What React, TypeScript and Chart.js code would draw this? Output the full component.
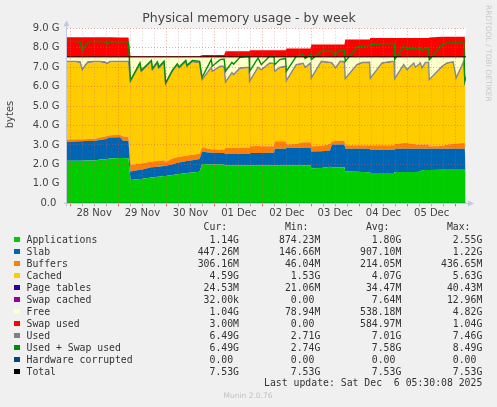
import React, { useEffect, useRef } from 'react';
import { Chart, registerables } from 'chart.js';

Chart.register(...registerables);

// hours since 28 Nov 00:00
const times = [
  -1.5, 2.5, 5.0, 6.1, 7.5, 9.0, 12.4, 14.9, 17.4, 18.4, 19.9, 24.9, 26.4, 29.1,
  30.1, 34.8, 35.5, 40.5, 41.0, 43.5, 44.2, 46.8, 47.6, 50.9, 53.4, 54.3, 57.6, 58.2, 60.9, 64.5,
  65.7, 70.3, 70.8, 74.7, 76.7, 77.4, 80.6, 81.4, 84.6, 89.1, 89.4, 93.6, 95.2, 99.4, 101.5,
  101.9, 104.4, 107.3, 107.7, 112.6, 116.0, 117.0, 119.8, 120.1, 125.1, 129.4, 130.4, 132.1,
  134.5, 136.6, 137.0, 142.8, 145.3, 149.1, 149.5, 155.3, 160.3, 161.3, 161.6, 166.1, 167.7,
  171.1, 171.9, 174.4, 175.2, 176.9, 178.5, 178.8, 185.2, 187.7, 190.7, 192.2, 196.0, 196.5, 196.9,
];

const applications = [
  2.19, 2.19, 2.19, 2.19, 2.20, 2.20, 2.20, 2.25, 2.27, 2.28, 2.30, 2.33, 2.33, 2.32,
  1.20, 1.25, 1.25, 1.33, 1.33, 1.36, 1.36, 1.40, 1.41, 1.46, 1.50, 1.51, 1.55, 1.56, 1.58, 1.62,
  2.02, 2.00, 2.00, 1.99, 1.99, 1.94, 1.94, 1.94, 1.94, 1.94, 1.95, 1.95, 1.95, 1.95, 1.95,
  1.95, 1.95, 1.95, 1.95, 1.95, 1.95, 1.95, 1.95, 1.80, 1.82, 1.88, 1.85, 1.85,
  1.85, 1.85, 1.63, 1.62, 1.61, 1.60, 1.56, 1.56, 1.56, 1.56, 1.61, 1.61, 1.61,
  1.61, 1.61, 1.62, 1.70, 1.71, 1.71, 1.71, 1.72, 1.73, 1.73, 1.73, 1.73, 1.73, 1.14,
];

const slab = [
  0.98, 0.99, 1.00, 1.00, 1.00, 1.00, 1.02, 1.00, 1.03, 1.05, 1.08, 1.07, 0.89, 0.90,
  0.43, 0.47, 0.47, 0.52, 0.52, 0.52, 0.52, 0.52, 0.52, 0.54, 0.58, 0.59, 0.61, 0.61, 0.64, 0.66,
  0.63, 0.60, 0.60, 0.60, 0.60, 0.60, 0.60, 0.60, 0.60, 0.60, 0.64, 0.64, 0.64, 0.65, 0.65,
  0.86, 0.86, 0.86, 0.90, 0.90, 0.90, 0.90, 0.90, 0.87, 0.86, 0.84, 1.17, 1.17,
  1.17, 1.17, 1.18, 1.19, 1.20, 1.20, 1.20, 1.20, 1.20, 1.20, 1.20, 1.20, 1.20,
  1.20, 1.20, 1.19, 1.11, 1.10, 1.10, 1.10, 1.09, 1.08, 1.08, 1.08, 1.08, 1.08, 0.45,
];

const buffers = [
  0.11, 0.11, 0.11, 0.11, 0.10, 0.11, 0.10, 0.13, 0.14, 0.13, 0.12, 0.12, 0.22, 0.20,
  0.34, 0.33, 0.33, 0.30, 0.30, 0.30, 0.30, 0.30, 0.19, 0.30, 0.29, 0.29, 0.29, 0.29, 0.28, 0.27,
  0.23, 0.18, 0.18, 0.18, 0.18, 0.30, 0.30, 0.30, 0.31, 0.32, 0.34, 0.36, 0.34, 0.33, 0.33,
  0.38, 0.38, 0.38, 0.17, 0.20, 0.29, 0.29, 0.29, 0.26, 0.27, 0.33, 0.17, 0.18,
  0.20, 0.20, 0.17, 0.17, 0.17, 0.18, 0.22, 0.22, 0.22, 0.22, 0.24, 0.29, 0.29,
  0.24, 0.21, 0.21, 0.21, 0.21, 0.21, 0.12, 0.14, 0.21, 0.24, 0.27, 0.29, 0.29, 0.30,
];

const cached = [
  3.97, 3.96, 3.93, 3.52, 3.75, 3.92, 3.93, 3.87, 3.78, 3.69, 3.75, 3.73, 3.81, 3.83,
  4.27, 5.08, 4.70, 5.11, 4.68, 5.00, 4.74, 5.00, 3.98, 4.45, 4.72, 4.53, 4.81, 4.55, 4.76, 4.65,
  3.44, 4.17, 3.97, 4.24, 4.24, 3.36, 3.84, 3.74, 4.07, 4.10, 3.31, 4.01, 3.90, 4.25, 4.23,
  3.56, 3.76, 3.82, 3.25, 4.04, 4.02, 3.82, 4.04, 3.48, 4.31, 4.16, 3.99, 3.72,
  4.04, 4.02, 3.39, 4.11, 4.22, 4.23, 3.41, 4.20, 4.28, 4.28, 3.32, 3.99, 3.73,
  4.13, 3.94, 4.16, 3.90, 4.19, 4.19, 3.39, 4.06, 4.16, 4.19, 3.33, 4.16, 3.16, 4.58,
];

const pageTables = [
  0.038, 0.038, 0.038, 0.038, 0.038, 0.038, 0.038, 0.038, 0.038, 0.038, 0.038, 0.038, 0.038, 0.038,
  0.033, 0.033, 0.033, 0.033, 0.033, 0.033, 0.033, 0.033, 0.033, 0.033, 0.033, 0.033, 0.033, 0.033, 0.033, 0.033,
  0.032, 0.032, 0.032, 0.032, 0.032, 0.032, 0.032, 0.032, 0.032, 0.032, 0.032, 0.032, 0.032, 0.032, 0.032,
  0.032, 0.032, 0.032, 0.032, 0.032, 0.032, 0.032, 0.032, 0.032, 0.032, 0.032, 0.032, 0.032,
  0.032, 0.032, 0.032, 0.032, 0.032, 0.032, 0.032, 0.032, 0.032, 0.032, 0.032, 0.032, 0.032,
  0.032, 0.032, 0.032, 0.032, 0.032, 0.032, 0.032, 0.032, 0.032, 0.032, 0.032, 0.032, 0.032, 0.025,
];

const swapCached = [
  0.012, 0.012, 0.012, 0.012, 0.012, 0.012, 0.012, 0.012, 0.012, 0.012, 0.012, 0.012, 0.012, 0.012,
  0.005, 0.005, 0.005, 0.005, 0.005, 0.005, 0.005, 0.005, 0.005, 0.005, 0.005, 0.005, 0.005, 0.005, 0.005, 0.005,
  0.008, 0.008, 0.008, 0.008, 0.008, 0.008, 0.008, 0.008, 0.008, 0.008, 0.008, 0.008, 0.008, 0.008, 0.008,
  0.008, 0.008, 0.008, 0.008, 0.008, 0.008, 0.008, 0.008, 0.008, 0.008, 0.008, 0.008, 0.008,
  0.008, 0.008, 0.008, 0.008, 0.008, 0.008, 0.008, 0.008, 0.008, 0.008, 0.008, 0.008, 0.008,
  0.008, 0.008, 0.008, 0.008, 0.008, 0.008, 0.008, 0.008, 0.008, 0.008, 0.008, 0.008, 0.008, 0.00003,
];

const free = [
  0.23, 0.23, 0.25, 0.66, 0.43, 0.25, 0.23, 0.23, 0.26, 0.33, 0.23, 0.23, 0.23, 0.23,
  1.25, 0.36, 0.74, 0.23, 0.66, 0.31, 0.57, 0.27, 1.39, 0.74, 0.40, 0.57, 0.23, 0.48, 0.23, 0.29,
  1.17, 0.54, 0.74, 0.48, 0.48, 1.29, 0.81, 0.91, 0.57, 0.53, 1.25, 0.53, 0.66, 0.31, 0.33,
  0.74, 0.54, 0.48, 1.22, 0.40, 0.33, 0.53, 0.31, 1.08, 0.23, 0.28, 0.31, 0.57,
  0.23, 0.25, 1.12, 0.40, 0.29, 0.28, 1.10, 0.31, 0.23, 0.23, 1.12, 0.40, 0.66,
  0.31, 0.53, 0.31, 0.57, 0.28, 0.28, 1.17, 0.48, 0.31, 0.25, 1.08, 0.23, 1.23, 1.04,
];

const swapUsed = [
  1.01, 1.01, 1.01, 1.01, 1.01, 1.01, 1.01, 1.01, 1.01, 1.01, 1.01, 1.00, 1.00, 1.00,
  0.04, 0.04, 0.04, 0.04, 0.04, 0.04, 0.04, 0.04, 0.04, 0.04, 0.04, 0.04, 0.04, 0.04, 0.04, 0.04,
  0.10, 0.10, 0.10, 0.10, 0.10, 0.29, 0.29, 0.29, 0.29, 0.29, 0.34, 0.34, 0.34, 0.34, 0.34,
  0.34, 0.34, 0.34, 0.43, 0.43, 0.43, 0.43, 0.43, 0.64, 0.64, 0.64, 0.64, 0.64,
  0.64, 0.64, 0.89, 0.89, 0.89, 0.89, 0.97, 0.97, 0.97, 0.97, 0.97, 0.97, 0.97,
  0.97, 0.97, 0.97, 0.97, 0.97, 0.97, 1.00, 1.03, 1.03, 1.03, 1.03, 1.03, 1.03, 0.003,
];

const used = [
  7.30, 7.30, 7.28, 6.87, 7.10, 7.28, 7.30, 7.30, 7.27, 7.20, 7.30, 7.30, 7.30, 7.30,
  6.28, 7.17, 6.79, 7.30, 6.87, 7.22, 6.96, 7.26, 6.14, 6.79, 7.13, 6.96, 7.30, 7.05, 7.30, 7.24,
  6.36, 6.99, 6.79, 7.05, 7.05, 6.24, 6.72, 6.62, 6.96, 7.00, 6.28, 7.00, 6.87, 7.22, 7.20,
  6.79, 6.99, 7.05, 6.31, 7.13, 7.20, 7.00, 7.22, 6.45, 7.30, 7.25, 7.22, 6.96,
  7.30, 7.28, 6.41, 7.13, 7.24, 7.25, 6.43, 7.22, 7.30, 7.30, 6.41, 7.13, 6.87,
  7.22, 7.00, 7.22, 6.96, 7.25, 7.25, 6.36, 7.05, 7.22, 7.28, 6.45, 7.30, 6.30, 6.49,
];

const usedSwap = [
  8.33, 8.33, 8.31, 7.85, 8.10, 8.30, 8.33, 8.32, 8.30, 8.20, 8.32, 8.30, 8.30, 8.30,
  6.33, 7.22, 6.84, 7.35, 6.92, 7.27, 7.01, 7.31, 6.19, 6.84, 7.18, 7.01, 7.35, 7.10, 7.35, 7.30,
  6.47, 7.39, 7.05, 7.39, 7.42, 6.79, 7.25, 7.15, 7.51, 7.56, 6.79, 7.48, 7.13, 7.56, 7.54,
  7.13, 7.39, 7.45, 6.79, 7.56, 7.65, 7.45, 7.65, 7.39, 7.82, 7.82, 7.82, 7.65,
  7.90, 7.90, 7.30, 8.03, 8.07, 8.12, 8.16, 8.20, 8.22, 8.22, 7.39, 8.07, 7.95,
  7.99, 7.90, 8.00, 7.85, 8.00, 8.00, 7.39, 8.16, 8.25, 8.25, 8.25, 8.25, 6.30, 6.49,
];

const flatTimes = [-1.5, 197.1];
const total = [7.53, 7.53];
const hardwareCorrupted = [0, 0];

const xTickHours = [
  0, 6, 12, 18, 24, 30, 36, 42, 48, 54, 60, 66, 72, 78, 84, 90, 96, 102, 108, 114,
  120, 126, 132, 138, 144, 150, 156, 162, 168, 174, 180, 186, 192,
];
const dayLabelHours = [12, 36, 60, 84, 108, 132, 156, 180];
const dayLabels = ['28 Nov', '29 Nov', '30 Nov', '01 Dec', '02 Dec', '03 Dec', '04 Dec', '05 Dec'];

const yTickValues = [0, 0.5, 1, 1.5, 2, 2.5, 3, 3.5, 4, 4.5, 5, 5.5, 6, 6.5, 7, 7.5, 8, 8.5, 9];
const yTickLabels = ['0.0 ', '1.0 G', '2.0 G', '3.0 G', '4.0 G', '5.0 G', '6.0 G', '7.0 G', '8.0 G', '9.0 G'];

const legendNames = [
  'Applications', 'Slab', 'Buffers', 'Cached', 'Page tables', 'Swap cached', 'Free',
  'Swap used', 'Used', 'Used + Swap used', 'Hardware corrupted', 'Total',
];
const legendColors = [
  '#00CC00', '#0066B3', '#FF8000', '#FFCC00', '#330099', '#990099', '#FFFFCC',
  '#FF0000', '#808080', '#008F00', '#00487D', '#000000',
];
const curValues = ['1.14G', '447.26M', '306.16M', '4.59G', '24.53M', '32.00k', '1.04G', '3.00M', '6.49G', '6.49G', '0.00 ', '7.53G'];
const minValues = ['874.23M', '146.66M', '46.04M', '1.53G', '21.06M', '0.00 ', '78.94M', '0.00 ', '2.71G', '2.74G', '0.00 ', '7.53G'];
const avgValues = ['1.80G', '907.10M', '214.05M', '4.07G', '34.47M', '7.64M', '538.18M', '584.97M', '7.01G', '7.58G', '0.00 ', '7.53G'];
const maxValues = ['2.55G', '1.22G', '436.65M', '5.63G', '40.43M', '12.96M', '4.82G', '1.04G', '7.46G', '8.49G', '0.00 ', '7.53G'];

const TITLE = 'Physical memory usage - by week';
const Y_TITLE = 'bytes';
const WATERMARK = 'RRDTOOL / TOBI OETIKER';
const LAST_UPDATE = 'Last update: Sat Dec  6 05:30:08 2025';
const FOOTER = 'Munin 2.0.76';

const CW = 497;
const CH = 225;
const PLOT_LEFT = 67;
const PLOT_RIGHT = 466;
const PLOT_TOP = 28.3;
const PLOT_BOTTOM = 203.3;

const MAJOR_GRID = 'rgba(225,80,80,0.5)';
const MINOR_GRID = 'rgba(190,120,120,0.4)';

function toPoints(xs: number[], ys: number[]) {
  return ys.map((y, i) => ({ x: xs[i], y }));
}

const decorPlugin = {
  id: 'decor',
  beforeDraw(chart: any) {
    const { ctx, chartArea: a } = chart;
    ctx.save();
    ctx.fillStyle = '#F0F0F0';
    ctx.fillRect(0, 0, chart.width, chart.height);
    ctx.fillStyle = '#FFFFFF';
    ctx.fillRect(a.left, a.top, a.right - a.left, a.bottom - a.top);
    ctx.restore();
  },
  afterDraw(chart: any) {
    const { ctx, chartArea: a } = chart;
    ctx.save();
    // axes
    ctx.strokeStyle = '#C4C8DC';
    ctx.fillStyle = '#C4C8DC';
    ctx.lineWidth = 1;
    ctx.beginPath();
    ctx.moveTo(a.left - 3, Math.round(a.bottom) + 0.5);
    ctx.lineTo(a.right + 2, Math.round(a.bottom) + 0.5);
    ctx.moveTo(Math.round(a.left) - 0.5, a.bottom + 3);
    ctx.lineTo(Math.round(a.left) - 0.5, a.top - 2);
    ctx.stroke();
    ctx.beginPath();
    ctx.moveTo(a.right + 2, Math.round(a.bottom) - 2.5);
    ctx.lineTo(a.right + 8, Math.round(a.bottom) + 0.5);
    ctx.lineTo(a.right + 2, Math.round(a.bottom) + 3.5);
    ctx.closePath();
    ctx.fill();
    ctx.beginPath();
    ctx.moveTo(Math.round(a.left) - 3.5, a.top - 2);
    ctx.lineTo(Math.round(a.left) - 0.5, a.top - 8);
    ctx.lineTo(Math.round(a.left) + 2.5, a.top - 2);
    ctx.closePath();
    ctx.fill();

    // title
    ctx.fillStyle = '#444';
    ctx.font = '12.5px "DejaVu Sans"';
    ctx.textAlign = 'center';
    ctx.textBaseline = 'middle';
    ctx.fillText(TITLE, 249, 19);

    // y title
    ctx.save();
    ctx.translate(10.5, 114.5);
    ctx.rotate(-Math.PI / 2);
    ctx.font = '10px "DejaVu Sans"';
    ctx.fillStyle = '#444';
    ctx.fillText(Y_TITLE, 0, 0);
    ctx.restore();

    // watermark
    ctx.save();
    ctx.translate(488, 5);
    ctx.rotate(Math.PI / 2);
    ctx.font = '7.5px "DejaVu Sans"';
    ctx.fillStyle = '#C8C8C8';
    ctx.textAlign = 'left';
    ctx.textBaseline = 'middle';
    ctx.fillText(WATERMARK, 0, 0);
    ctx.restore();
    ctx.restore();
  },
};

function buildConfig(): any {
  const areaDefs: [string, number[], string][] = [
    ['Applications', applications, '#00CC00'],
    ['Slab', slab, '#0066B3'],
    ['Buffers', buffers, '#FF8000'],
    ['Cached', cached, '#FFCC00'],
    ['Page tables', pageTables, '#330099'],
    ['Swap cached', swapCached, '#990099'],
    ['Free', free, '#FFFFCC'],
    ['Swap used', swapUsed, '#FF0000'],
  ];
  const areaSets = areaDefs.map(([label, vals, color], i) => ({
    label,
    data: toPoints(times, vals),
    stack: 'mem',
    fill: i === 0 ? 'origin' : '-1',
    backgroundColor: color,
    borderColor: color,
    borderWidth: 0,
    pointRadius: 0,
    tension: 0,
    order: 0,
  }));
  const lineSets = [
    { label: 'Used', data: toPoints(times, used), stack: 'used', borderColor: '#888888', borderWidth: 1.4, order: -1 },
    { label: 'Used + Swap used', data: toPoints(times, usedSwap), stack: 'usedSwap', borderColor: '#008F00', borderWidth: 1.4, order: -2 },
    { label: 'Hardware corrupted', data: toPoints(flatTimes, hardwareCorrupted), stack: 'hw', borderColor: '#00487D', borderWidth: 1, order: -3 },
    { label: 'Total', data: toPoints(flatTimes, total), stack: 'total', borderColor: '#000000', borderWidth: 1, order: -4 },
  ].map((d) => ({ ...d, fill: false, pointRadius: 0, tension: 0 }));

  return {
    type: 'line',
    data: { datasets: [...areaSets, ...lineSets] },
    options: {
      responsive: false,
      animation: false,
      events: [],
      layout: { padding: { left: 0, right: CW - PLOT_RIGHT, top: PLOT_TOP, bottom: 0 } },
      plugins: { legend: { display: false }, tooltip: { enabled: false }, title: { display: false } },
      scales: {
        x: {
          type: 'linear',
          min: -1.5,
          max: 197.1,
          z: 1,
          afterBuildTicks: (s: any) => {
            s.ticks = xTickHours.map((v) => ({ value: v }));
          },
          afterFit: (s: any) => {
            s.height = CH - PLOT_BOTTOM;
          },
          grid: {
            z: 1,
            color: (c: any) => (c.tick && c.tick.value % 24 === 0 ? MAJOR_GRID : MINOR_GRID),
            lineWidth: 1,
            drawTicks: true,
            tickLength: 3,
            tickColor: (c: any) => (c.tick && c.tick.value % 24 === 0 ? 'rgba(230,60,60,0.8)' : 'rgba(160,160,160,0.8)'),
          },
          border: { display: false, dash: [1, 2] },
          ticks: {
            autoSkip: false,
            maxRotation: 0,
            minRotation: 0,
            padding: 1.5,
            color: '#444',
            font: { family: 'DejaVu Sans', size: 10 },
            callback: (v: any) => {
              const idx = dayLabelHours.indexOf(Number(v));
              return idx >= 0 ? dayLabels[idx] : '';
            },
          },
        },
        y: {
          stacked: true,
          min: 0,
          max: 9,
          z: 1,
          afterBuildTicks: (s: any) => {
            s.ticks = yTickValues.map((v) => ({ value: v }));
          },
          afterFit: (s: any) => {
            s.width = PLOT_LEFT;
          },
          grid: {
            z: 1,
            color: (c: any) => (c.tick && Number.isInteger(c.tick.value) ? MAJOR_GRID : MINOR_GRID),
            lineWidth: 1,
            drawTicks: false,
          },
          border: { display: false, dash: [1, 2] },
          ticks: {
            padding: 7.5,
            color: '#444',
            font: { family: 'DejaVu Sans', size: 10 },
            callback: (v: any) => (Number.isInteger(Number(v)) ? yTickLabels[Number(v)] : ''),
          },
        },
      },
    },
    plugins: [decorPlugin],
  };
}

const MONO = '"DejaVu Sans Mono", monospace';

function Text({ x, y, right, children, style }: any) {
  const base: any = {
    position: 'absolute',
    top: y - 6,
    height: 12,
    lineHeight: '12px',
    whiteSpace: 'pre',
    fontFamily: MONO,
    fontSize: '9.8px',
    color: '#333',
  };
  if (right !== undefined) base.right = CW - right;
  else base.left = x;
  return <div style={{ ...base, ...style }}>{children}</div>;
}

export default function App() {
  const ref = useRef<HTMLCanvasElement | null>(null);
  useEffect(() => {
    if (!ref.current) return;
    const chart = new Chart(ref.current, buildConfig());
    return () => chart.destroy();
  }, []);

  const rowY = (i: number) => 239.5 + i * 12;
  return (
    <div style={{ position: 'absolute', left: 0, top: 0, width: CW, height: 407, background: '#F0F0F0', overflow: 'hidden' }}>
      <canvas ref={ref} width={CW} height={CH} style={{ position: 'absolute', left: 0, top: 0, width: CW, height: CH }} />
      <Text right={239} y={227.3}>{'Cur:  '}</Text>
      <Text right={320.3} y={227.3}>{'Min:  '}</Text>
      <Text right={401.3} y={227.3}>{'Avg:  '}</Text>
      <Text right={482.3} y={227.3}>{'Max:  '}</Text>
      {legendNames.map((name, i) => (
        <React.Fragment key={name}>
          <div style={{ position: 'absolute', left: 14, top: rowY(i) - 2.8, width: 5.6, height: 5.6, background: legendColors[i] }} />
          <Text x={26.5} y={rowY(i)}>{name}</Text>
          <Text right={239} y={rowY(i)}>{curValues[i]}</Text>
          <Text right={320.3} y={rowY(i)}>{minValues[i]}</Text>
          <Text right={401.3} y={rowY(i)}>{avgValues[i]}</Text>
          <Text right={482.3} y={rowY(i)}>{maxValues[i]}</Text>
        </React.Fragment>
      ))}
      <Text right={482.3} y={383.4}>{LAST_UPDATE}</Text>
      <div
        style={{
          position: 'absolute',
          left: 148,
          width: 200,
          top: 391,
          height: 10,
          lineHeight: '10px',
          textAlign: 'center',
          fontFamily: '"DejaVu Sans", sans-serif',
          fontSize: '7.5px',
          color: '#C0C0C0',
        }}
      >
        {FOOTER}
      </div>
    </div>
  );
}
